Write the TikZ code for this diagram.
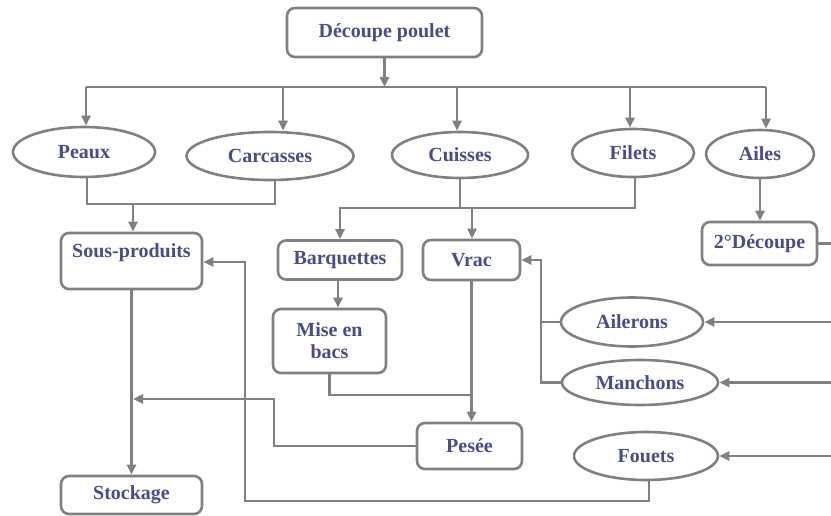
\documentclass[tikz,border=0pt]{standalone}
\usepackage{fontspec}
\setmainfont{Liberation Serif}
\usepackage{xcolor}
\usetikzlibrary{shapes.geometric,arrows.meta}
\definecolor{lignegris}{RGB}{128,128,128}
\definecolor{texteblue}{RGB}{72,76,140}
\tikzset{
  etape/.style={draw=lignegris, line width=2.6pt, rounded corners=8pt, inner sep=0pt,
    text=texteblue, font=\bfseries\fontsize{20}{22}\selectfont, align=center},
  produit/.style={draw=lignegris, line width=2.6pt, ellipse, inner sep=0pt,
    text=texteblue, font=\bfseries\fontsize{20}{22}\selectfont},
  fil/.style={lignegris, line width=2.6pt},
  fleche/.style={fil, -{Triangle[length=10pt,width=9pt]}}
}
\begin{document}
\begin{tikzpicture}[x=1pt,y=-1pt]
\useasboundingbox (0,0) rectangle (831,516);

% etapes
\node[etape, minimum width=195pt, minimum height=49pt] (poulet) at (384.5,32.5) {Découpe poulet};
\node[etape, minimum width=115pt, minimum height=43pt] (decoupe2) at (759.5,243.5) {2°Découpe};
\node[etape, minimum width=141pt, minimum height=56pt, text depth=20pt] (sousprod) at (131.5,261) {Sous-produits};
\node[etape, minimum width=141pt, minimum height=38pt] (stockage) at (131.5,495) {Stockage};
\node[etape, minimum width=124pt, minimum height=39pt] (barquettes) at (340,260) {Barquettes};
\node[etape, minimum width=97pt, minimum height=40pt] (vrac) at (471.5,260) {Vrac};
\node[etape, minimum width=113pt, minimum height=64pt] (mise) at (329.5,341) {Mise en\\bacs};
\node[etape, minimum width=105pt, minimum height=46pt] (pesee) at (469.5,446) {Pesée};

% produits
\node[produit, minimum width=142pt, minimum height=50pt] (peaux) at (84,152) {Peaux};
\node[produit, minimum width=167pt, minimum height=48pt] (carcasses) at (270,156) {Carcasses};
\node[produit, minimum width=136pt, minimum height=46pt] (cuisses) at (460,155) {Cuisses};
\node[produit, minimum width=122pt, minimum height=48pt] (filets) at (633,153) {Filets};
\node[produit, minimum width=108pt, minimum height=48pt] (ailes) at (760,154) {Ailes};
\node[produit, minimum width=142pt, minimum height=49pt] (ailerons) at (632,322) {Ailerons};
\node[produit, minimum width=156pt, minimum height=45pt] (manchons) at (640,382.5) {Manchons};
\node[produit, minimum width=144pt, minimum height=48pt] (fouets) at (646,456) {Fouets};

% points de jonction
\coordinate (bus) at (385,87);
\coordinate (jsp) at (133,204);
\coordinate (jcu) at (472,208);
\coordinate (kpe) at (274,399);
\coordinate (kfo) at (245,501);
\coordinate (kmi) at (471,395);
\coordinate (kvr) at (541,260);
\coordinate (bord) at (831,0);

% decoupe
\draw[fleche] (poulet.south) -- (poulet.south |- bus);
\draw[fil] ([xshift=2pt]peaux.north |- bus) -- ([xshift=6pt]ailes.north |- bus);
\draw[fleche] ([xshift=2pt]peaux.north |- bus) -- ([xshift=2pt]peaux.north);
\draw[fleche] ([xshift=13pt]carcasses.north |- bus) -- ([xshift=13pt]carcasses.north);
\draw[fleche] ([xshift=-3pt]cuisses.north |- bus) -- ([xshift=-3pt]cuisses.north);
\draw[fleche] ([xshift=-3pt]filets.north |- bus) -- ([xshift=-3pt]filets.north);
\draw[fleche] ([xshift=6pt]ailes.north |- bus) -- ([xshift=6pt]ailes.north);

% sous-produits
\draw[fil] ([xshift=3pt]peaux.south) -- ([xshift=3pt]peaux.south |- jsp) -- ([xshift=5pt]carcasses.south |- jsp) -- ([xshift=5pt]carcasses.south);
\draw[fleche] (jsp) -- (jsp |- sousprod.north);
\draw[fleche] (sousprod.south) -- (stockage.north);
\draw[fleche] (pesee.west) -| (kpe) -- (jsp |- kpe);
\draw[fleche] ([xshift=3pt]fouets.south) |- (kfo) |- ([yshift=-1pt]sousprod.east);

% cuisses et filets
\draw[fil] (cuisses.south) -- (cuisses.south |- jcu);
\draw[fleche] ([xshift=2pt]filets.south) -- ([xshift=2pt]filets.south |- jcu) -| (barquettes.north);
\draw[fleche] (jcu) -- (jcu |- vrac.north);
\draw[fleche] ([xshift=-2pt]barquettes.south) -- ([xshift=-2pt]barquettes.south |- mise.north);
\draw[fil] (mise.south) |- (kmi);
\draw[fleche] (vrac.south) -- (vrac.south |- pesee.north);

% ailes
\draw[fleche] (ailes.south) -- (ailes.south |- decoupe2.north);
\draw[fil] (decoupe2.east) -- (decoupe2.east -| bord);
\draw[fil] (ailerons.west) -- (ailerons.west -| kvr);
\draw[fleche] (manchons.west) -| (kvr) -- (vrac.east);
\draw[fleche] (ailerons.east -| bord) -- (ailerons.east);
\draw[fleche] (manchons.east -| bord) -- (manchons.east);
\draw[fleche] (fouets.east -| bord) -- (fouets.east);
\end{tikzpicture}
\end{document}
